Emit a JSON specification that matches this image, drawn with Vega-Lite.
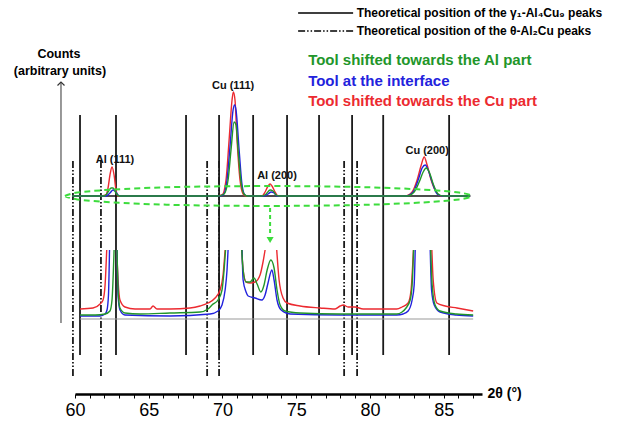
{
"$schema": "https://vega.github.io/schema/vega-lite/v6.json",
"width": 407, "height": 394,
"autosize": {"type": "none"},
"padding": {"left": 75, "top": 0, "right": 145, "bottom": 31},
"background": "white",
"config": {"view": {"stroke": null}, "font": "Liberation Sans"},
"datasets": {
"vlines": [
{"x":60.34,"y":39,"y2":279,"phase":"Theoretical position of the γ₁-Al₄Cu₉ peaks"},
{"x":62.78,"y":39,"y2":279,"phase":"Theoretical position of the γ₁-Al₄Cu₉ peaks"},
{"x":67.53,"y":39,"y2":279,"phase":"Theoretical position of the γ₁-Al₄Cu₉ peaks"},
{"x":69.77,"y":39,"y2":279,"phase":"Theoretical position of the γ₁-Al₄Cu₉ peaks"},
{"x":72.08,"y":39,"y2":279,"phase":"Theoretical position of the γ₁-Al₄Cu₉ peaks"},
{"x":74.38,"y":39,"y2":279,"phase":"Theoretical position of the γ₁-Al₄Cu₉ peaks"},
{"x":76.55,"y":39,"y2":279,"phase":"Theoretical position of the γ₁-Al₄Cu₉ peaks"},
{"x":78.79,"y":39,"y2":279,"phase":"Theoretical position of the γ₁-Al₄Cu₉ peaks"},
{"x":80.90,"y":39,"y2":279,"phase":"Theoretical position of the γ₁-Al₄Cu₉ peaks"},
{"x":85.37,"y":39,"y2":279,"phase":"Theoretical position of the γ₁-Al₄Cu₉ peaks"},
{"x":59.86,"y":18,"y2":234,"phase":"Theoretical position of the θ-Al₂Cu peaks"},
{"x":61.76,"y":18,"y2":234,"phase":"Theoretical position of the θ-Al₂Cu peaks"},
{"x":68.96,"y":18,"y2":234,"phase":"Theoretical position of the θ-Al₂Cu peaks"},
{"x":69.77,"y":18,"y2":234,"phase":"Theoretical position of the θ-Al₂Cu peaks"},
{"x":78.25,"y":18,"y2":234,"phase":"Theoretical position of the θ-Al₂Cu peaks"},
{"x":79.13,"y":18,"y2":234,"phase":"Theoretical position of the θ-Al₂Cu peaks"}
],
"legendrows": [
{"x":75.13,"x2":78.86,"y":381,"tx":79.1,"phase":"Theoretical position of the γ₁-Al₄Cu₉ peaks"},
{"x":75.13,"x2":78.86,"y":363,"tx":79.1,"phase":"Theoretical position of the θ-Al₂Cu peaks"}
],
"spectra": [
{"series":"Cu","seg":"RU","x":59.80,"y":198},{"series":"Cu","seg":"RU","x":61.70,"y":198},{"series":"Cu","seg":"RU","x":62.10,"y":199},{"series":"Cu","seg":"RU","x":62.24,"y":206},{"series":"Cu","seg":"RU","x":62.37,"y":219},{"series":"Cu","seg":"RU","x":62.51,"y":227},{"series":"Cu","seg":"RU","x":62.65,"y":219},{"series":"Cu","seg":"RU","x":62.78,"y":204},{"series":"Cu","seg":"RU","x":62.92,"y":198},{"series":"Cu","seg":"RU","x":69.50,"y":198},{"series":"Cu","seg":"RU","x":69.97,"y":199},{"series":"Cu","seg":"RU","x":70.24,"y":214},{"series":"Cu","seg":"RU","x":70.45,"y":254},{"series":"Cu","seg":"RU","x":70.65,"y":294},{"series":"Cu","seg":"RU","x":70.74,"y":302},{"series":"Cu","seg":"RU","x":70.85,"y":294},{"series":"Cu","seg":"RU","x":70.99,"y":254},{"series":"Cu","seg":"RU","x":71.19,"y":214},{"series":"Cu","seg":"RU","x":71.40,"y":200},{"series":"Cu","seg":"RU","x":71.60,"y":198},{"series":"Cu","seg":"RU","x":72.69,"y":198},{"series":"Cu","seg":"RU","x":72.89,"y":202},{"series":"Cu","seg":"RU","x":73.09,"y":208},{"series":"Cu","seg":"RU","x":73.23,"y":210},{"series":"Cu","seg":"RU","x":73.36,"y":208},{"series":"Cu","seg":"RU","x":73.57,"y":202},{"series":"Cu","seg":"RU","x":73.77,"y":198},{"series":"Cu","seg":"RU","x":82.39,"y":198},{"series":"Cu","seg":"RU","x":82.86,"y":202},{"series":"Cu","seg":"RU","x":83.20,"y":214},{"series":"Cu","seg":"RU","x":83.48,"y":229},{"series":"Cu","seg":"RU","x":83.68,"y":237},{"series":"Cu","seg":"RU","x":83.88,"y":229},{"series":"Cu","seg":"RU","x":84.15,"y":214},{"series":"Cu","seg":"RU","x":84.49,"y":202},{"series":"Cu","seg":"RU","x":84.83,"y":198},{"series":"Cu","seg":"RU","x":86.80,"y":198},
{"series":"Cu","seg":"R1","x":60.34,"y":85},{"series":"Cu","seg":"R1","x":61.22,"y":86},{"series":"Cu","seg":"R1","x":61.70,"y":90},{"series":"Cu","seg":"R1","x":61.90,"y":94},{"series":"Cu","seg":"R1","x":62.04,"y":109},{"series":"Cu","seg":"R1","x":62.15,"y":144},
{"series":"Cu","seg":"R2","x":62.83,"y":144},{"series":"Cu","seg":"R2","x":62.92,"y":114},{"series":"Cu","seg":"R2","x":63.05,"y":94},{"series":"Cu","seg":"R2","x":63.39,"y":87},{"series":"Cu","seg":"R2","x":64.07,"y":85},{"series":"Cu","seg":"R2","x":65.09,"y":85},{"series":"Cu","seg":"R2","x":65.29,"y":88},{"series":"Cu","seg":"R2","x":65.56,"y":85},{"series":"Cu","seg":"R2","x":66.44,"y":85},{"series":"Cu","seg":"R2","x":67.80,"y":86},{"series":"Cu","seg":"R2","x":68.48,"y":88},{"series":"Cu","seg":"R2","x":69.02,"y":91},{"series":"Cu","seg":"R2","x":69.50,"y":96},{"series":"Cu","seg":"R2","x":69.84,"y":104},{"series":"Cu","seg":"R2","x":70.04,"y":119},{"series":"Cu","seg":"R2","x":70.18,"y":144},
{"series":"Cu","seg":"R3","x":71.31,"y":144},{"series":"Cu","seg":"R3","x":71.40,"y":124},{"series":"Cu","seg":"R3","x":71.60,"y":112},{"series":"Cu","seg":"R3","x":71.87,"y":111},{"series":"Cu","seg":"R3","x":72.21,"y":112},{"series":"Cu","seg":"R3","x":72.55,"y":119},{"series":"Cu","seg":"R3","x":72.75,"y":132},{"series":"Cu","seg":"R3","x":72.89,"y":144},
{"series":"Cu","seg":"R4","x":73.68,"y":144},{"series":"Cu","seg":"R4","x":73.84,"y":114},{"series":"Cu","seg":"R4","x":74.11,"y":96},{"series":"Cu","seg":"R4","x":74.38,"y":91},{"series":"Cu","seg":"R4","x":75.26,"y":88},{"series":"Cu","seg":"R4","x":76.62,"y":86},{"series":"Cu","seg":"R4","x":77.64,"y":85},{"series":"Cu","seg":"R4","x":77.98,"y":88},{"series":"Cu","seg":"R4","x":78.20,"y":89},{"series":"Cu","seg":"R4","x":78.52,"y":87},{"series":"Cu","seg":"R4","x":78.99,"y":87},{"series":"Cu","seg":"R4","x":79.54,"y":85},{"series":"Cu","seg":"R4","x":80.69,"y":85},{"series":"Cu","seg":"R4","x":81.82,"y":85},{"series":"Cu","seg":"R4","x":82.18,"y":87},{"series":"Cu","seg":"R4","x":82.59,"y":91},{"series":"Cu","seg":"R4","x":82.79,"y":104},{"series":"Cu","seg":"R4","x":82.95,"y":144},
{"series":"Cu","seg":"R5","x":84.20,"y":144},{"series":"Cu","seg":"R5","x":84.29,"y":114},{"series":"Cu","seg":"R5","x":84.54,"y":91},{"series":"Cu","seg":"R5","x":85.10,"y":88},{"series":"Cu","seg":"R5","x":85.90,"y":86},{"series":"Cu","seg":"R5","x":87.00,"y":83},
{"series":"If","seg":"BU","x":59.80,"y":198},{"series":"If","seg":"BU","x":62.10,"y":198},{"series":"If","seg":"BU","x":62.37,"y":201},{"series":"If","seg":"BU","x":62.58,"y":204},{"series":"If","seg":"BU","x":62.71,"y":203},{"series":"If","seg":"BU","x":62.92,"y":199},{"series":"If","seg":"BU","x":63.05,"y":198},{"series":"If","seg":"BU","x":69.70,"y":198},{"series":"If","seg":"BU","x":70.04,"y":199},{"series":"If","seg":"BU","x":70.31,"y":214},{"series":"If","seg":"BU","x":70.52,"y":249},{"series":"If","seg":"BU","x":70.72,"y":284},{"series":"If","seg":"BU","x":70.82,"y":289},{"series":"If","seg":"BU","x":70.92,"y":284},{"series":"If","seg":"BU","x":71.13,"y":244},{"series":"If","seg":"BU","x":71.33,"y":209},{"series":"If","seg":"BU","x":71.53,"y":199},{"series":"If","seg":"BU","x":71.74,"y":198},{"series":"If","seg":"BU","x":72.82,"y":198},{"series":"If","seg":"BU","x":73.09,"y":200},{"series":"If","seg":"BU","x":73.30,"y":202},{"series":"If","seg":"BU","x":73.50,"y":201},{"series":"If","seg":"BU","x":73.70,"y":198},{"series":"If","seg":"BU","x":82.45,"y":198},{"series":"If","seg":"BU","x":82.93,"y":202},{"series":"If","seg":"BU","x":83.27,"y":214},{"series":"If","seg":"BU","x":83.54,"y":226},{"series":"If","seg":"BU","x":83.75,"y":229},{"series":"If","seg":"BU","x":83.95,"y":224},{"series":"If","seg":"BU","x":84.22,"y":212},{"series":"If","seg":"BU","x":84.56,"y":200},{"series":"If","seg":"BU","x":84.90,"y":198},{"series":"If","seg":"BU","x":86.80,"y":198},
{"series":"If","seg":"B1","x":60.34,"y":78},{"series":"If","seg":"B1","x":61.70,"y":78},{"series":"If","seg":"B1","x":62.04,"y":80},{"series":"If","seg":"B1","x":62.17,"y":84},{"series":"If","seg":"B1","x":62.27,"y":99},{"series":"If","seg":"B1","x":62.34,"y":144},
{"series":"If","seg":"B2","x":62.85,"y":144},{"series":"If","seg":"B2","x":62.92,"y":99},{"series":"If","seg":"B2","x":63.05,"y":84},{"series":"If","seg":"B2","x":63.39,"y":79},{"series":"If","seg":"B2","x":66.44,"y":78},{"series":"If","seg":"B2","x":69.16,"y":80},{"series":"If","seg":"B2","x":69.70,"y":83},{"series":"If","seg":"B2","x":69.97,"y":89},{"series":"If","seg":"B2","x":70.18,"y":104},{"series":"If","seg":"B2","x":70.31,"y":124},{"series":"If","seg":"B2","x":70.38,"y":144},
{"series":"If","seg":"B3","x":71.33,"y":144},{"series":"If","seg":"B3","x":71.40,"y":114},{"series":"If","seg":"B3","x":71.60,"y":102},{"series":"If","seg":"B3","x":71.74,"y":98},{"series":"If","seg":"B3","x":72.21,"y":96},{"series":"If","seg":"B3","x":72.67,"y":94},{"series":"If","seg":"B3","x":72.89,"y":99},{"series":"If","seg":"B3","x":73.09,"y":111},{"series":"If","seg":"B3","x":73.35,"y":124},{"series":"If","seg":"B3","x":73.50,"y":114},{"series":"If","seg":"B3","x":73.70,"y":94},{"series":"If","seg":"B3","x":73.98,"y":84},{"series":"If","seg":"B3","x":74.59,"y":80},{"series":"If","seg":"B3","x":77.98,"y":79},{"series":"If","seg":"B3","x":81.82,"y":79},{"series":"If","seg":"B3","x":82.25,"y":80},{"series":"If","seg":"B3","x":82.59,"y":83},{"series":"If","seg":"B3","x":82.86,"y":94},{"series":"If","seg":"B3","x":83.00,"y":109},{"series":"If","seg":"B3","x":83.07,"y":144},
{"series":"If","seg":"B4","x":84.09,"y":144},{"series":"If","seg":"B4","x":84.18,"y":104},{"series":"If","seg":"B4","x":84.36,"y":89},{"series":"If","seg":"B4","x":84.76,"y":82},{"series":"If","seg":"B4","x":85.85,"y":79},{"series":"If","seg":"B4","x":87.00,"y":78},
{"series":"Al","seg":"GU","x":59.80,"y":198},{"series":"Al","seg":"GU","x":61.97,"y":198},{"series":"Al","seg":"GU","x":62.24,"y":202},{"series":"Al","seg":"GU","x":62.44,"y":206},{"series":"Al","seg":"GU","x":62.58,"y":206},{"series":"Al","seg":"GU","x":62.78,"y":201},{"series":"Al","seg":"GU","x":62.99,"y":198},{"series":"Al","seg":"GU","x":69.70,"y":198},{"series":"Al","seg":"GU","x":70.11,"y":200},{"series":"Al","seg":"GU","x":70.38,"y":214},{"series":"Al","seg":"GU","x":70.58,"y":244},{"series":"Al","seg":"GU","x":70.79,"y":272},{"series":"Al","seg":"GU","x":70.92,"y":269},{"series":"Al","seg":"GU","x":71.06,"y":244},{"series":"Al","seg":"GU","x":71.26,"y":212},{"series":"Al","seg":"GU","x":71.46,"y":200},{"series":"Al","seg":"GU","x":71.67,"y":198},{"series":"Al","seg":"GU","x":72.69,"y":198},{"series":"Al","seg":"GU","x":72.96,"y":200},{"series":"Al","seg":"GU","x":73.23,"y":204},{"series":"Al","seg":"GU","x":73.43,"y":203},{"series":"Al","seg":"GU","x":73.64,"y":199},{"series":"Al","seg":"GU","x":73.84,"y":198},{"series":"Al","seg":"GU","x":82.52,"y":198},{"series":"Al","seg":"GU","x":83.00,"y":202},{"series":"Al","seg":"GU","x":83.34,"y":212},{"series":"Al","seg":"GU","x":83.61,"y":222},{"series":"Al","seg":"GU","x":83.81,"y":226},{"series":"Al","seg":"GU","x":84.02,"y":222},{"series":"Al","seg":"GU","x":84.29,"y":210},{"series":"Al","seg":"GU","x":84.63,"y":200},{"series":"Al","seg":"GU","x":84.97,"y":198},{"series":"Al","seg":"GU","x":86.80,"y":198},
{"series":"Al","seg":"G1","x":60.34,"y":79},{"series":"Al","seg":"G1","x":61.36,"y":79},{"series":"Al","seg":"G1","x":62.04,"y":80},{"series":"Al","seg":"G1","x":62.37,"y":83},{"series":"Al","seg":"G1","x":62.51,"y":94},{"series":"Al","seg":"G1","x":62.65,"y":144},
{"series":"Al","seg":"G2","x":62.85,"y":144},{"series":"Al","seg":"G2","x":62.92,"y":104},{"series":"Al","seg":"G2","x":63.05,"y":86},{"series":"Al","seg":"G2","x":63.39,"y":81},{"series":"Al","seg":"G2","x":64.41,"y":80},{"series":"Al","seg":"G2","x":66.44,"y":81},{"series":"Al","seg":"G2","x":68.48,"y":82},{"series":"Al","seg":"G2","x":69.02,"y":85},{"series":"Al","seg":"G2","x":69.29,"y":89},{"series":"Al","seg":"G2","x":69.70,"y":94},{"series":"Al","seg":"G2","x":69.97,"y":104},{"series":"Al","seg":"G2","x":70.11,"y":124},{"series":"Al","seg":"G2","x":70.21,"y":144},
{"series":"Al","seg":"G3","x":71.31,"y":144},{"series":"Al","seg":"G3","x":71.40,"y":124},{"series":"Al","seg":"G3","x":71.60,"y":112},{"series":"Al","seg":"G3","x":71.87,"y":112},{"series":"Al","seg":"G3","x":72.14,"y":116},{"series":"Al","seg":"G3","x":72.35,"y":110},{"series":"Al","seg":"G3","x":72.60,"y":102},{"series":"Al","seg":"G3","x":72.82,"y":109},{"series":"Al","seg":"G3","x":73.03,"y":124},{"series":"Al","seg":"G3","x":73.28,"y":134},{"series":"Al","seg":"G3","x":73.50,"y":126},{"series":"Al","seg":"G3","x":73.70,"y":104},{"series":"Al","seg":"G3","x":73.91,"y":89},{"series":"Al","seg":"G3","x":74.25,"y":83},{"series":"Al","seg":"G3","x":75.26,"y":81},{"series":"Al","seg":"G3","x":77.98,"y":80},{"series":"Al","seg":"G3","x":79.33,"y":80},{"series":"Al","seg":"G3","x":81.82,"y":80},{"series":"Al","seg":"G3","x":82.18,"y":82},{"series":"Al","seg":"G3","x":82.45,"y":86},{"series":"Al","seg":"G3","x":82.73,"y":94},{"series":"Al","seg":"G3","x":82.86,"y":109},{"series":"Al","seg":"G3","x":82.96,"y":144},
{"series":"Al","seg":"G4","x":84.12,"y":144},{"series":"Al","seg":"G4","x":84.22,"y":109},{"series":"Al","seg":"G4","x":84.42,"y":89},{"series":"Al","seg":"G4","x":84.76,"y":83},{"series":"Al","seg":"G4","x":85.85,"y":80},{"series":"Al","seg":"G4","x":87.00,"y":79}
],
"ellipse": [
{"i":0,"x":59.32,"y":198},{"i":1,"x":60.15,"y":201.4},{"i":2,"x":62.54,"y":204.4},{"i":3,"x":66.21,"y":206.7},{"i":4,"x":70.70,"y":207.8},{"i":5,"x":75.49,"y":207.8},{"i":6,"x":79.98,"y":206.7},{"i":7,"x":83.64,"y":204.4},{"i":8,"x":86.04,"y":201.4},{"i":9,"x":86.86,"y":198},{"i":10,"x":86.04,"y":194.6},{"i":11,"x":83.64,"y":191.6},{"i":12,"x":79.98,"y":189.3},{"i":13,"x":75.49,"y":188.2},{"i":14,"x":70.70,"y":188.2},{"i":15,"x":66.21,"y":189.3},{"i":16,"x":62.54,"y":191.6},{"i":17,"x":60.15,"y":194.6},{"i":18,"x":59.32,"y":198}
]
},
"encoding": {
"x": {"field": "x", "type": "quantitative",
 "scale": {"domain": [60, 87.6], "nice": false, "zero": false},
 "axis": {"values": [60,61,62,63,64,65,66,67,68,69,70,71,72,73,74,75,76,77,78,79,80,81,82,83,84,85,86,87],
  "labelExpr": "datum.value % 5 === 0 ? datum.label : ''",
  "domainColor": "black", "domainWidth": 2.5, "tickColor": "black", "tickSize": 4, "tickWidth": 1,
  "labelFontSize": 18, "labelColor": "black", "labelPadding": 3, "labelFlush": false, "labelOverlap": false, "grid": false,
  "title": "2θ (°)", "titleX": 412, "titleY": -1, "titleAlign": "left", "titleBaseline": "middle", "titleAngle": 0,
  "titleFontSize": 14, "titleFontWeight": "bold", "titleColor": "black"}},
"y": {"field": "y", "type": "quantitative", "scale": {"domain": [0, 394], "nice": false, "zero": false}, "axis": null}
},
"layer": [
{"data": {"name": "vlines"},
 "mark": {"type": "rule", "strokeWidth": 1.8, "color": "#1a1a1a"},
 "encoding": {"y2": {"field": "y2"},
  "strokeDash": {"field": "phase", "type": "nominal",
   "scale": {"domain": ["Theoretical position of the γ₁-Al₄Cu₉ peaks", "Theoretical position of the θ-Al₂Cu peaks"], "range": [[1,0],[7,2,1.5,2,1.5,2]]},
   "legend": null}}},
{"data": {"name": "legendrows"},
 "mark": {"type": "rule", "strokeWidth": 1.5, "color": "black"},
 "encoding": {"x2": {"field": "x2"}, "strokeDash": {"field": "phase", "type": "nominal", "legend": null}}},
{"data": {"name": "legendrows"},
 "mark": {"type": "text", "fontSize": 12, "fontWeight": "bold", "color": "black", "align": "left", "baseline": "middle", "font": "'Liberation Sans Narrow', 'Liberation Sans', sans-serif"},
 "encoding": {"x": {"field": "tx", "type": "quantitative"}, "text": {"field": "phase"}}},
{"data": {"values": [{"x": 59.8, "x2": 86.8, "y": 198}]},
 "mark": {"type": "rule", "color": "#111", "strokeWidth": 1.3},
 "encoding": {"x2": {"field": "x2"}}},
{"data": {"values": [{"x": 60.34, "x2": 87.0, "y": 75}]},
 "mark": {"type": "rule", "color": "#999", "strokeWidth": 1.2},
 "encoding": {"x2": {"field": "x2"}}},
{"data": {"name": "spectra"},
 "mark": {"type": "line", "strokeWidth": 1.4, "interpolate": "monotone"},
 "encoding": {"detail": {"field": "seg"},
  "color": {"field": "series", "type": "nominal", "scale": {"domain": ["Al", "If", "Cu"], "range": ["#22962a", "#2222dd", "#ec2a30"]}, "legend": null}}},
{"data": {"name": "ellipse"},
 "mark": {"type": "line", "color": "#3ddc3d", "strokeWidth": 2, "strokeDash": [6, 4], "interpolate": "cardinal"},
 "encoding": {"order": {"field": "i"}}},
{"data": {"values": [{"x": 73.23, "y": 186, "y2": 158}]},
 "mark": {"type": "rule", "color": "#3ddc3d", "strokeWidth": 2, "strokeDash": [4, 3]},
 "encoding": {"y2": {"field": "y2"}}},
{"data": {"values": [{"x": 73.23, "y": 154}]},
 "mark": {"type": "point", "shape": "triangle-down", "filled": true, "size": 50, "color": "#3ddc3d", "opacity": 1}},
{"data": {"values": [{"x": 59.05, "y": 71, "y2": 312}]},
 "mark": {"type": "rule", "color": "#333", "strokeWidth": 1},
 "encoding": {"y2": {"field": "y2"}}},
{"data": {"values": [{"x": 59.05, "y": 312}]},
 "mark": {"type": "point", "shape": "M-1,1L0,0L1,1", "filled": false, "size": 49, "color": "#333", "strokeWidth": 1.2, "opacity": 1}},
{"data": {"values": [
  {"x": 62.71, "y": 234, "text": "Al (111)"},
  {"x": 70.72, "y": 308, "text": "Cu (111)"},
  {"x": 73.70, "y": 218, "text": "Al (200)"},
  {"x": 83.88, "y": 243, "text": "Cu (200)"}]},
 "mark": {"type": "text", "fontSize": 11, "fontWeight": "bold", "color": "#111", "baseline": "middle", "align": "center"},
 "encoding": {"text": {"field": "text"}}},
{"data": {"values": [
  {"x": 58.91, "y": 340, "text": "Counts"},
  {"x": 58.98, "y": 323, "text": "(arbitrary units)"}]},
 "mark": {"type": "text", "fontSize": 12.5, "fontWeight": "bold", "color": "black", "baseline": "middle", "align": "center", "font": "'Liberation Sans Narrow', 'Liberation Sans', sans-serif"},
 "encoding": {"text": {"field": "text"}}},
{"data": {"values": [
  {"x": 75.81, "y": 334, "series": "Al", "text": "Tool shifted towards the Al part"},
  {"x": 75.81, "y": 313, "series": "If", "text": "Tool at the interface"},
  {"x": 75.81, "y": 293, "series": "Cu", "text": "Tool shifted towards the Cu part"}]},
 "mark": {"type": "text", "fontSize": 15, "fontWeight": "bold", "baseline": "middle", "align": "left", "font": "'Liberation Sans Narrow', 'Liberation Sans', sans-serif"},
 "encoding": {"text": {"field": "text"}, "color": {"field": "series", "type": "nominal", "legend": null}}}
]
}
